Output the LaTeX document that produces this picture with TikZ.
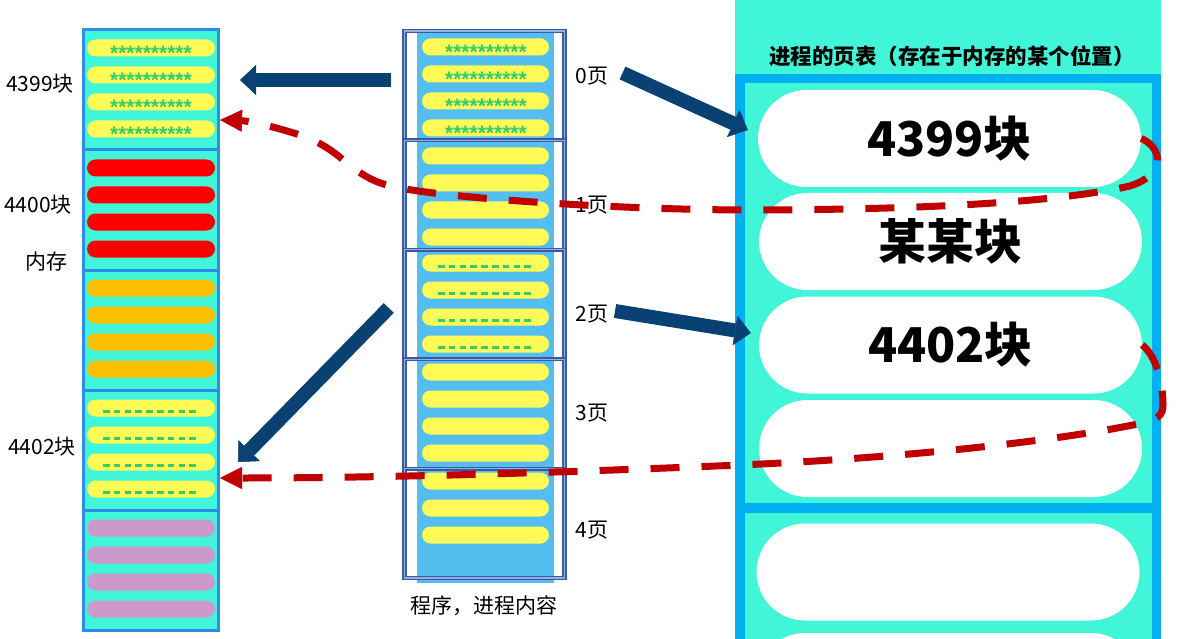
\documentclass[tikz,border=0pt]{standalone}
\usepackage{fontspec}
\setmainfont{Noto Sans CJK SC}
\newfontfamily\starfont{Liberation Sans}
\usetikzlibrary{positioning}
\usetikzlibrary{arrows.meta}
\definecolor{turq}{RGB}{64,245,216}
\definecolor{memblue}{RGB}{46,140,235}
\definecolor{colblue}{RGB}{84,190,240}
\definecolor{framedark}{RGB}{58,90,168}
\definecolor{framelight}{RGB}{150,175,220}
\definecolor{tblblue}{RGB}{0,176,240}
\definecolor{pillyellow}{RGB}{255,250,85}
\definecolor{pillred}{RGB}{255,0,0}
\definecolor{pillorange}{RGB}{255,192,0}
\definecolor{pillpurple}{RGB}{204,153,204}
\definecolor{textgreen}{RGB}{50,205,110}
\definecolor{navy}{RGB}{10,65,115}
\definecolor{darkred}{RGB}{192,0,0}
\tikzset{
    memblk/.style={draw=memblue, line width=3pt, fill=turq, minimum width=135pt, minimum height=120pt, inner sep=0pt}, % 内存中的块
    pgframe/.style={draw=framedark, line width=1.5pt, double=framelight, double distance=1.2pt, minimum width=160pt, minimum height=109.4pt, inner sep=0pt}, % 程序的页
    lbl/.style={font=\fontsize{21pt}{21pt}\selectfont, inner sep=0pt}, % 普通标签
    startxt/.style={font=\starfont\bfseries\fontsize{21pt}{21pt}\selectfont, text=textgreen, inner sep=0pt, anchor=base}, % 星号
    greendash/.style={draw=textgreen, line width=3pt, dash pattern=on 6.5pt off 4.3pt}, % 虚线内容
    bigpill/.style={fill=white, minimum width=383pt, minimum height=97pt, rounded corners=48.5pt, inner sep=0pt, font=\fontsize{48pt}{48pt}\selectfont\bfseries}, % 页表项
    blockarrow/.style={draw=navy, line width=14pt, -{Triangle[length=16pt,width=30pt,line width=0.5pt]}},
    redpath/.style={draw=darkred, line width=7pt, dash pattern=on 29pt off 22pt, -{Triangle[length=22pt,width=22pt,line width=0.5pt]}}
}
\begin{document}
\begin{tikzpicture}[x=1pt, y=-1pt]
          \path[use as bounding box] (0,0) rectangle (1196,639);
          \clip (0,0) rectangle (1196,639);
          \fill[white] (0,0) rectangle (1196,639);

          % --- 1. 左边的内存 ---
          \foreach \i / \col in {0/pillyellow, 1/pillred, 2/pillorange, 3/pillyellow, 4/pillpurple} {
              \node[memblk] (blk\i) at (151, 90+120*\i) {};
              \foreach \j in {0,...,3} {
                  \fill[\col, rounded corners=8.5pt] (87, 39.5+120*\i+27*\j) rectangle (215, 56.5+120*\i+27*\j);
              }
          }
          \foreach \j in {0,...,3} {
              \node[startxt] (ms\j) at (151, 61+27*\j) {**********};
              \draw[greendash] (103, 411+27*\j) -- (200, 411+27*\j);
          }

          \node[lbl] (m4399) at (40, 84) {4399块};
          \node[lbl] (m4400) at (38, 205) {4400块};
          \node[lbl] (mem) at (46, 262) {内存};
          \node[lbl] (m4402) at (42, 447) {4402块};

          % --- 2. 中间的程序 ---
          \fill[colblue] (417, 33) rectangle (554, 583);
          \foreach \i / \top / \n in {0/47/4, 1/156/4, 2/263/4, 3/372/4, 4/481/3} {
              \node[pgframe] (pg\i) at (484.5, 85.7+109.4*\i) {};
              \foreach \j in {1,...,\n} {
                  \fill[pillyellow, rounded corners=8.5pt] (422, \top-35.5+27*\j) rectangle (549, \top-18.5+27*\j);
              }
          }
          \foreach \j in {0,...,3} {
              \node[startxt] (ps\j) at (486, 60+27*\j) {**********};
              \draw[greendash] (438, 266+27*\j) -- (535, 266+27*\j);
          }

          \foreach \i / \y in {0/76, 1/205, 2/314, 3/413, 4/530} {
              \node[lbl] (lbl\i) at (592, \y) {\i 页};
          }
          \node[lbl] (prog) at (484, 606) {程序，进程内容};

          % --- 3. 右边的页表 ---
          \fill[turq] (735, 0) rectangle (1161, 639);
          \node[font=\fontsize{21.5pt}{21.5pt}\selectfont\bfseries] (title) at (952, 56) {进程的页表（存在于内存的某个位置）};
          \draw[tblblue, line width=9.5pt] (740, 78.5) rectangle (1156.5, 508);
          \draw[tblblue, line width=9.5pt] (740, 508) rectangle (1156.5, 700);
          \node[bigpill] (tp0) at (949.5, 138.5) {4399块};
          \node[bigpill] (tp1) at (950.5, 241.5) {某某块};
          \node[bigpill] (tp2) at (950.5, 345) {4402块};
          \node[bigpill] (tp3) at (950.5, 448.5) {};
          \node[bigpill] (tp4) at (948, 572) {};
          \node[bigpill] (tp5) at (948, 681.5) {};

          % --- 4. 箭头 ---
          \draw[blockarrow] ([xshift=-13pt, yshift=5.7pt]pg0.west) -- ([xshift=20pt, yshift=10pt]blk0.east);
          \draw[blockarrow] ([xshift=-15pt, yshift=-3.5pt]pg2.west) -- ([xshift=18pt, yshift=-12pt]blk3.east);
          \draw[blockarrow] ([xshift=14pt, yshift=3pt]lbl0.east) -- ([xshift=-10pt, yshift=8.5pt]tp0.west);
          \draw[blockarrow] ([xshift=6.5pt, yshift=3pt]lbl2.east) -- ([xshift=-8pt, yshift=12pt]tp2.west);

          \draw[redpath] (tp0.east) .. controls (1158, 145) and (1172, 172) .. (1130, 186)
              .. controls (1050, 204) and (900, 210) .. (740, 210)
              .. controls (600, 209) and (440, 197) .. (395, 187)
              .. controls (350, 178) and (345, 150) .. (300, 135)
              .. controls (275, 127) and (250, 121) .. ([yshift=-30pt]blk0.east);
          \draw[redpath] (tp2.east) .. controls (1155, 355) and (1163, 380) .. (1163, 405)
              .. controls (1163, 416) and (1158, 419) .. (1138, 424)
              .. controls (1050, 442) and (900, 458) .. (740, 465)
              .. controls (600, 471) and (400, 478) .. ([yshift=-28pt]blk3.east);

      \end{tikzpicture}
\end{document}
